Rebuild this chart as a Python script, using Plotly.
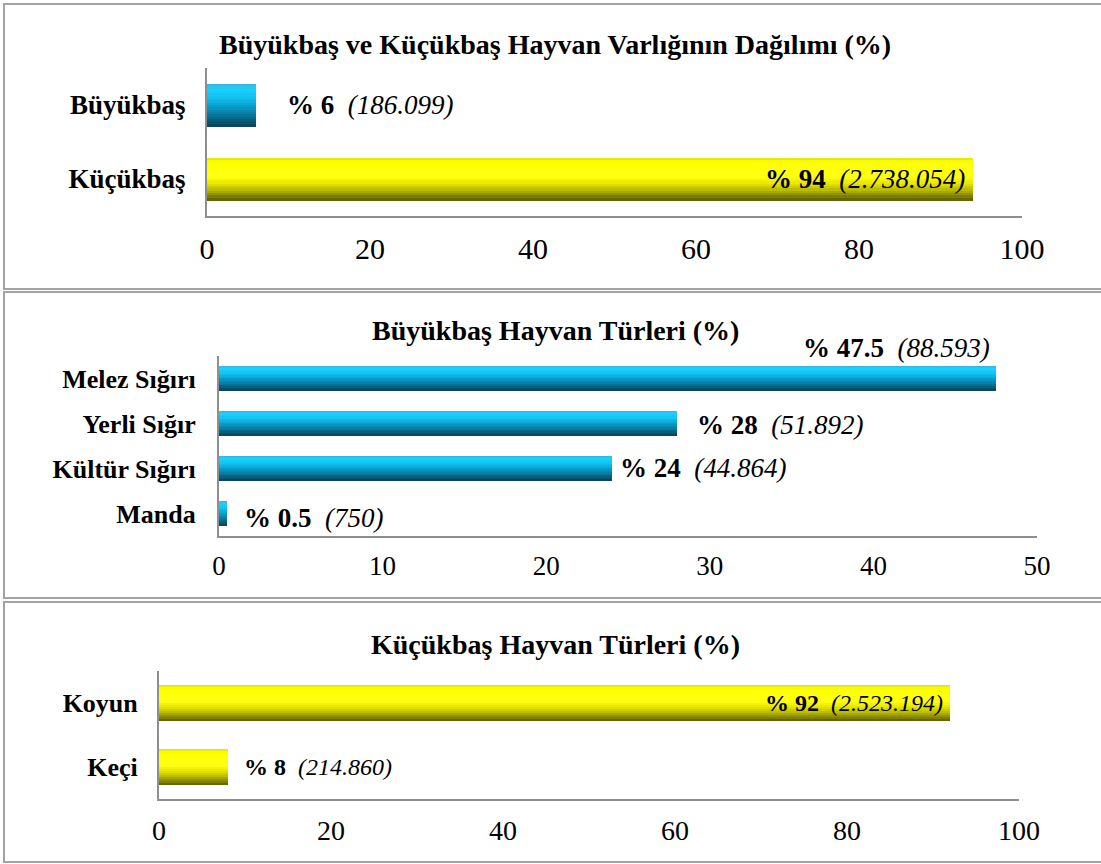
import plotly.graph_objects as go

# ---------------- data ----------------
p1_title = "Büyükbaş ve Küçükbaş Hayvan Varlığının Dağılımı (%)"
p1_categories = ["Büyükbaş", "Küçükbaş"]
p1_values = [6, 94]
p1_counts = ["186.099", "2.738.054"]
p1_pct = ["6", "94"]
p1_ticks = [0, 20, 40, 60, 80, 100]

p2_title = "Büyükbaş Hayvan Türleri (%)"
p2_categories = ["Melez Sığırı", "Yerli Sığır", "Kültür Sığırı", "Manda"]
p2_values = [47.5, 28, 24, 0.5]
p2_counts = ["88.593", "51.892", "44.864", "750"]
p2_pct = ["47.5", "28", "24", "0.5"]
p2_ticks = [0, 10, 20, 30, 40, 50]

p3_title = "Küçükbaş Hayvan Türleri (%)"
p3_categories = ["Koyun", "Keçi"]
p3_values = [92, 8]
p3_counts = ["2.523.194", "214.860"]
p3_pct = ["92", "8"]
p3_ticks = [0, 20, 40, 60, 80, 100]

# ---------------- styling ----------------
W, H = 1101, 864
FONT = "Liberation Serif"
AXIS_COLOR = "#8e8e8e"
BORDER_COLOR = "#a3a3a3"

BLUE_STOPS = [(0, "#3ab3d8"), (0.12, "#19d3ff"), (0.3, "#12c4f2"), (0.5, "#0aa3d3"),
              (0.7, "#097ea6"), (0.85, "#0a6080"), (1, "#0b4257")]
YELLOW_STOPS = [(0, "#e2e200"), (0.1, "#ffff00"), (0.45, "#ffff14"), (0.6, "#e8e800"),
                (0.75, "#bcbc00"), (0.9, "#858500"), (1, "#5c5c00")]


def hex2rgb(h):
    h = h.lstrip("#")
    return [int(h[i:i + 2], 16) for i in (0, 2, 4)]


def grad(stops, t):
    for (t0, c0), (t1, c1) in zip(stops[:-1], stops[1:]):
        if t0 <= t <= t1:
            f = (t - t0) / (t1 - t0) if t1 > t0 else 0
            a, b = hex2rgb(c0), hex2rgb(c1)
            return "rgb(%d,%d,%d)" % tuple(round(a[k] + (b[k] - a[k]) * f) for k in range(3))
    return stops[-1][1]


def px_x(p):
    return p / W


def px_y(p):
    return 1 - p / H


fig = go.Figure()

N = 18


def add_bars(categories, values, stops, bw, xa, ya):
    step = bw / N
    for i in range(N):
        t = (i + 0.5) / N
        fig.add_trace(go.Bar(
            x=values, y=categories, orientation="h",
            width=[step * 1.25] * len(values),
            offset=[-bw / 2 + i * step] * len(values),
            marker=dict(color=grad(stops, t), line=dict(width=0)),
            xaxis=xa, yaxis=ya, showlegend=False, hoverinfo="skip",
        ))


add_bars(p1_categories[:1], p1_values[:1], BLUE_STOPS, 0.57, "x", "y")
add_bars(p1_categories[1:], p1_values[1:], YELLOW_STOPS, 0.57, "x", "y")
add_bars(p2_categories, p2_values, BLUE_STOPS, 0.55, "x2", "y2")
add_bars(p3_categories, p3_values, YELLOW_STOPS, 0.56, "x3", "y3")


def axes(xdom, ydom, rng, ticks, tfont, cfont, cats, cstand):
    xa = dict(domain=xdom, range=rng, tickvals=ticks, showgrid=False, zeroline=False,
              showline=True, linecolor=AXIS_COLOR, linewidth=2, ticks="", automargin=False,
              tickfont=dict(family=FONT, size=tfont, color="black"), fixedrange=True,
              ticklabelstandoff=5)
    ya = dict(domain=ydom, autorange="reversed", showgrid=False, zeroline=False,
              showline=True, linecolor=AXIS_COLOR, linewidth=2, ticks="", automargin=False,
              categoryorder="array", categoryarray=cats,
              tickfont=dict(family=FONT, size=cfont, color="black", weight="bold"),
              fixedrange=True, ticklabelstandoff=cstand)
    return xa, ya


x1, y1 = axes([px_x(207), px_x(1022)], [px_y(216), px_y(68)], [0, 100], p1_ticks, 30, 27, p1_categories, 14)
x2, y2 = axes([px_x(219), px_x(1037)], [px_y(536), px_y(356)], [0, 50], p2_ticks, 27, 26, p2_categories, 16)
x3, y3 = axes([px_x(159), px_x(1019)], [px_y(799), px_y(671)], [0, 100], p3_ticks, 28, 26, p3_categories, 14)
y1["anchor"] = "x"; x1["anchor"] = "y"
x2["anchor"] = "y2"; y2["anchor"] = "x2"
x3["anchor"] = "y3"; y3["anchor"] = "x3"

annotations = []


def label(pct, cnt, x, y, xa, ya, xanchor, xshift, yshift, size):
    annotations.append(dict(
        text="<b>%% %s</b>&nbsp; <i>(%s)</i>" % (pct, cnt),
        x=x, y=y, xref=xa, yref=ya, xanchor=xanchor, yanchor="middle",
        xshift=xshift, yshift=yshift, showarrow=False,
        font=dict(family=FONT, size=size, color="black")))


# panel 1
label(p1_pct[0], p1_counts[0], p1_values[0], p1_categories[0], "x", "y", "left", 29, 0, 27)
label(p1_pct[1], p1_counts[1], p1_values[1], p1_categories[1], "x", "y", "right", -6, 0, 27)
# panel 2
label(p2_pct[0], p2_counts[0], p2_values[0], p2_categories[0], "x2", "y2", "right", -4, 30, 27)
label(p2_pct[1], p2_counts[1], p2_values[1], p2_categories[1], "x2", "y2", "left", 18, -2, 27)
label(p2_pct[2], p2_counts[2], p2_values[2], p2_categories[2], "x2", "y2", "left", 6, 0, 27)
label(p2_pct[3], p2_counts[3], p2_values[3], p2_categories[3], "x2", "y2", "left", 15, -4, 27)
# panel 3
label(p3_pct[0], p3_counts[0], p3_values[0], p3_categories[0], "x3", "y3", "right", -5, 0, 24)
label(p3_pct[1], p3_counts[1], p3_values[1], p3_categories[1], "x3", "y3", "left", 14, 0, 24)

for t, yc in [(p1_title, 44), (p2_title, 330), (p3_title, 644)]:
    annotations.append(dict(text="<b>%s</b>" % t, x=px_x(555), y=px_y(yc), xref="paper",
                            yref="paper", xanchor="center", yanchor="middle", showarrow=False,
                            font=dict(family=FONT, size=28, color="black")))

shapes = []
for top, bot in [(4, 289), (292, 598), (602, 862)]:
    shapes.append(dict(type="rect", xref="paper", yref="paper", x0=px_x(4), x1=px_x(1110),
                       y0=px_y(bot), y1=px_y(top), line=dict(color=BORDER_COLOR, width=2),
                       fillcolor="rgba(0,0,0,0)", layer="below"))

fig.update_layout(
    template="none",
    width=W, height=H, autosize=False, margin=dict(l=0, r=0, t=0, b=0, pad=0, autoexpand=False),
    paper_bgcolor="white", plot_bgcolor="white", barmode="overlay",
    xaxis=x1, yaxis=y1, xaxis2=x2, yaxis2=y2, xaxis3=x3, yaxis3=y3,
    annotations=annotations, shapes=shapes, bargap=0,
)

post = ("document.documentElement.style.margin='0';document.body.style.margin='0';"
        "document.documentElement.style.overflow='hidden';document.body.style.overflow='hidden';"
        "var gd=document.getElementById('{plot_id}');"
        "Plotly.relayout(gd,{width:1101,height:864});")

fig.write_html("out.html", config={"displayModeBar": False, "responsive": False},
               post_script=post)
